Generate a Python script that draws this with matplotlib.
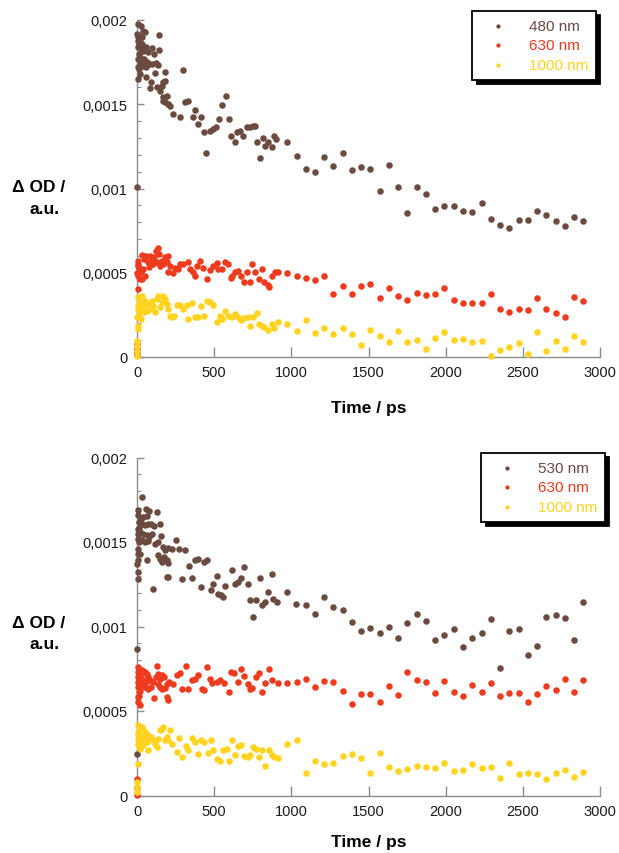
import matplotlib
matplotlib.use('Agg')
import matplotlib.pyplot as plt
from matplotlib.ticker import MultipleLocator

plt.rcParams['font.family'] = ['Liberation Sans', 'DejaVu Sans']

colors = {'brown': '#6B4A40', 'red': '#EE3B1E', 'yellow': '#FFD31F'}

# ===== shared late-time grid (ps) =====
t_late = [1095, 1153, 1214, 1272, 1333, 1393, 1452, 1512, 1573, 1633, 1693,
          1752, 1812, 1873, 1933, 1991, 2052, 2112, 2173, 2234, 2292, 2352,
          2413, 2473, 2534, 2594, 2652, 2713, 2773, 2834, 2892]

# ===== TOP PANEL: 480 nm / 630 nm / 1000 nm =====
t_a_480 = [0, 0, 9, 26, 41, 0, 13, 30, 52, 4, 19, 35, 9, 26, 41, 56, 69, 143, 99,
           143, 112, 9, 30, 48, 63, 78, 41, 56, 95, 121, 134, 19, 4, 19, 56, 91,
           117, 181, 84, 127, 149, 160, 170, 181, 192, 170, 181, 199, 6, 11, 15,
           22, 7, 16,
           296, 171, 203, 214, 235, 279, 311, 333, 365, 376, 397, 415, 434, 449,
           473, 495, 512, 533, 549, 577, 594, 607, 635, 650, 667, 689, 710, 732,
           750, 763, 776, 797, 814, 829, 851, 872, 890, 901, 970, 1035]
y_a_480 = [0.000028, 0.001007, 0.001976, 0.001967, 0.001937, 0.001917, 0.001907,
           0.001897, 0.001927, 0.001877, 0.001868, 0.001858, 0.001838, 0.001828,
           0.001818, 0.001838, 0.001808, 0.001913, 0.001832, 0.001824, 0.001798,
           0.001769, 0.001759, 0.001769, 0.001749, 0.001739, 0.001729, 0.001719,
           0.001739, 0.001743, 0.001735, 0.001739, 0.001650, 0.001680, 0.001660,
           0.001630, 0.001684, 0.001690, 0.001597, 0.001600, 0.001581, 0.001610,
           0.001630, 0.001640, 0.001551, 0.001521, 0.001511, 0.001502, 0.001900,
           0.001860, 0.001800, 0.001780, 0.001720, 0.001710,
           0.001705, 0.001541, 0.001502, 0.001492, 0.001442, 0.001422, 0.001511,
           0.001521, 0.001422, 0.001466, 0.001383, 0.001422, 0.001337, 0.001211,
           0.001343, 0.001353, 0.001363, 0.001413, 0.001496, 0.001551, 0.001413,
           0.001310, 0.001274, 0.001333, 0.001339, 0.001314, 0.001363, 0.001367,
           0.001369, 0.001373, 0.001274, 0.001179, 0.001298, 0.001254, 0.001274,
           0.001244, 0.001314, 0.001294, 0.001278, 0.001195]
y_a_480_late = [0.001116, 0.001096, 0.001189, 0.001136, 0.001211, 0.001112,
                0.001125, 0.001114, 0.000983, 0.001141, 0.001011, 0.000855,
                0.001011, 0.000969, 0.000880, 0.000894, 0.000898, 0.000867,
                0.000862, 0.000914, 0.000821, 0.000785, 0.000766, 0.000813,
                0.000815, 0.000867, 0.000841, 0.000809, 0.000779, 0.000831,
                0.000809]

t_a_630 = [0, 0, 0, 9, 4, 13, 9, 19, 4, 26, 35, 48, 56, 69, 78, 41, 52, 30, 84,
           95, 112, 121, 134, 143, 106, 127, 149, 160, 170, 181, 192, 203, 214,
           199, 6, 15, 2,
           236, 246, 264, 279, 300, 333, 343, 365, 376, 387, 408, 430, 451, 473,
           495, 516, 527, 553, 570, 588, 609, 618, 635, 652, 674, 696, 711, 732,
           747, 765, 791, 808, 825, 847, 855, 873, 894, 916, 974, 1035]
y_a_630 = [0.000077, 0.000047, 0.000010, 0.000572, 0.000542, 0.000512, 0.000483,
           0.000463, 0.000404, 0.000503, 0.000605, 0.000582, 0.000601, 0.000562,
           0.000532, 0.000522, 0.000483, 0.000463, 0.000601, 0.000572, 0.000592,
           0.000631, 0.000645, 0.000611, 0.000552, 0.000562, 0.000542, 0.000572,
           0.000552, 0.000592, 0.000562, 0.000601, 0.000542, 0.000503, 0.000550,
           0.000530, 0.000500,
           0.000499, 0.000526, 0.000522, 0.000552, 0.000552, 0.000562, 0.000522,
           0.000503, 0.000483, 0.000542, 0.000568, 0.000526, 0.000463, 0.000518,
           0.000542, 0.000558, 0.000522, 0.000522, 0.000562, 0.000552, 0.000467,
           0.000483, 0.000503, 0.000512, 0.000479, 0.000443, 0.000503, 0.000443,
           0.000552, 0.000503, 0.000463, 0.000522, 0.000443, 0.000427, 0.000414,
           0.000483, 0.000503, 0.000503, 0.000499, 0.000483]
y_a_630_late = [0.000467, 0.000459, 0.000479, 0.000372, 0.000420, 0.000372,
                0.000420, 0.000431, 0.000348, 0.000411, 0.000362, 0.000340,
                0.000380, 0.000366, 0.000376, 0.000410, 0.000338, 0.000322,
                0.000322, 0.000320, 0.000376, 0.000285, 0.000269, 0.000285,
                0.000279, 0.000350, 0.000287, 0.000261, 0.000235, 0.000356,
                0.000334]

t_a_1000 = [0, 0, 0, 0, 9, 19, 4, 13, 26, 9, 4, 30, 41, 52, 63, 73, 84, 95, 106,
            117, 127, 138, 149, 160, 170, 181, 192, 203, 6, 15, 22, 2, 35, 45,
            214, 225, 242, 257, 279, 300, 322, 333, 354, 376, 393, 415, 436, 451,
            473, 495, 516, 538, 553, 570, 592, 613, 635, 652, 674, 696, 717, 732,
            754, 775, 791, 808, 825, 847, 873, 890, 916, 974, 1035]
y_a_1000 = [0.000097, 0.000067, 0.000035, 0.000003, 0.000354, 0.000324, 0.000285,
            0.000255, 0.000226, 0.000186, 0.000166, 0.000364, 0.000305, 0.000334,
            0.000275, 0.000315, 0.000285, 0.000334, 0.000305, 0.000265, 0.000344,
            0.000364, 0.000295, 0.000328, 0.000364, 0.000344, 0.000315, 0.000285,
            0.000310, 0.000290, 0.000270, 0.000240, 0.000290, 0.000270,
            0.000241, 0.000235, 0.000241, 0.000309, 0.000309, 0.000285, 0.000309,
            0.000226, 0.000320, 0.000235, 0.000235, 0.000305, 0.000241, 0.000334,
            0.000328, 0.000309, 0.000210, 0.000241, 0.000226, 0.000275, 0.000241,
            0.000235, 0.000255, 0.000235, 0.000222, 0.000230, 0.000235, 0.000186,
            0.000235, 0.000261, 0.000196, 0.000186, 0.000176, 0.000162, 0.000196,
            0.000170, 0.000206, 0.000196, 0.000156]
y_a_1000_late = [0.000222, 0.000142, 0.000170, 0.000138, 0.000170, 0.000137,
                 0.000071, 0.000158, 0.000123, 0.000087, 0.000156, 0.000087,
                 0.000103, 0.000047, 0.000111, 0.000150, 0.000103, 0.000107,
                 0.000087, 0.000097, 0.000008, 0.000042, 0.000061, 0.000083,
                 0.000020, 0.000150, 0.000034, 0.000093, 0.000047, 0.000123,
                 0.000091]

# ===== BOTTOM PANEL: 530 nm / 630 nm / 1000 nm =====
t_b_530 = [0, 0, 35, 9, 56, 78, 127, 4, 26, 41, 63, 13, 30, 52, 73, 91, 112, 149,
           4, 19, 41, 63, 78, 9, 30, 52, 69, 95, 117, 138, 156, 170, 181, 199, 4,
           19, 4, 63, 138, 149, 164, 177, 192, 203, 9, 4, 106, 192, 203, 6, 11,
           15, 7, 2,
           225, 251, 272, 311, 294, 337, 354, 376, 393, 415, 436, 451, 479, 495,
           516, 570, 613, 635, 657, 674, 696, 717, 797, 851, 873, 974, 527, 542,
           555, 732, 750, 771, 808, 829, 884, 905, 1030]
y_b_530 = [0.000869, 0.000247, 0.001767, 0.001688, 0.001698, 0.001684, 0.001678,
           0.001658, 0.001639, 0.001649, 0.001652, 0.001619, 0.001609, 0.001599,
           0.001609, 0.001605, 0.001593, 0.001609, 0.001579, 0.001560, 0.001550,
           0.001540, 0.001530, 0.001520, 0.001510, 0.001500, 0.001507, 0.001550,
           0.001491, 0.001500, 0.001534, 0.001471, 0.001451, 0.001465, 0.001461,
           0.001431, 0.001392, 0.001392, 0.001421, 0.001402, 0.001382, 0.001412,
           0.001392, 0.001376, 0.001323, 0.001283, 0.001224, 0.001293, 0.001293,
           0.001550, 0.001500, 0.001580, 0.001430, 0.001370,
           0.001458, 0.001510, 0.001461, 0.001455, 0.001283, 0.001356, 0.001289,
           0.001392, 0.001402, 0.001234, 0.001382, 0.001396, 0.001218, 0.001254,
           0.001297, 0.001238, 0.001332, 0.001249, 0.001264, 0.001288, 0.001353,
           0.001254, 0.001289, 0.001205, 0.001309, 0.001205, 0.001194, 0.001184,
           0.001175, 0.001155, 0.001057, 0.001155, 0.001125, 0.001145, 0.001165,
           0.001145, 0.001135]
y_b_530_late = [0.001125, 0.001072, 0.001173, 0.001116, 0.001096, 0.001029,
                0.000971, 0.000991, 0.000963, 0.000999, 0.000930, 0.001023,
                0.001072, 0.001030, 0.000920, 0.000948, 0.000985, 0.000876,
                0.000930, 0.000962, 0.001042, 0.000752, 0.000975, 0.000985,
                0.000833, 0.000885, 0.001058, 0.001070, 0.001050, 0.000920,
                0.001145]

t_b_630 = [0, 0, 0, 9, 4, 13, 9, 4, 13, 9, 4, 19, 30, 41, 52, 63, 26, 41, 56, 73,
           84, 35, 52, 69, 91, 106, 127, 121, 138, 149, 160, 177, 134, 149, 164,
           181, 192, 207, 235, 112, 192, 203, 6, 15, 22, 11,
           257, 279, 294, 315, 333, 354, 376, 397, 419, 436, 451, 473, 488, 516,
           538, 566, 596, 609, 631, 657, 674, 696, 717, 732, 747, 769, 791, 812,
           830, 855, 873, 916, 974, 1035]
y_b_630 = [0.000100, 0.000045, 0.000003, 0.000760, 0.000731, 0.000701, 0.000672,
           0.000642, 0.000612, 0.000583, 0.000553, 0.000533, 0.000740, 0.000727,
           0.000731, 0.000721, 0.000691, 0.000681, 0.000672, 0.000701, 0.000681,
           0.000651, 0.000642, 0.000632, 0.000642, 0.000672, 0.000766, 0.000701,
           0.000721, 0.000691, 0.000711, 0.000701, 0.000661, 0.000642, 0.000632,
           0.000636, 0.000661, 0.000672, 0.000661, 0.000577, 0.000583, 0.000563,
           0.000700, 0.000660, 0.000620, 0.000590,
           0.000711, 0.000727, 0.000628, 0.000766, 0.000632, 0.000681, 0.000687,
           0.000711, 0.000632, 0.000622, 0.000760, 0.000687, 0.000667, 0.000672,
           0.000681, 0.000667, 0.000612, 0.000731, 0.000727, 0.000672, 0.000746,
           0.000707, 0.000661, 0.000632, 0.000636, 0.000701, 0.000727, 0.000612,
           0.000667, 0.000750, 0.000681, 0.000667, 0.000667, 0.000672]
y_b_630_late = [0.000687, 0.000640, 0.000675, 0.000671, 0.000620, 0.000541,
                0.000598, 0.000598, 0.000555, 0.000646, 0.000594, 0.000731,
                0.000683, 0.000673, 0.000604, 0.000675, 0.000612, 0.000588,
                0.000655, 0.000610, 0.000667, 0.000586, 0.000604, 0.000606,
                0.000551, 0.000600, 0.000648, 0.000626, 0.000689, 0.000612,
                0.000681]

t_b_1000 = [0, 0, 0, 9, 19, 4, 13, 9, 4, 19, 4, 30, 41, 52, 63, 35, 48, 63, 26,
            41, 73, 78, 91, 106, 117, 127, 138, 149, 160, 170, 181, 192, 203, 6,
            15, 22,
            214, 225, 257, 272, 294, 315, 333, 354, 376, 393, 415, 436, 458, 479,
            495, 516, 538, 559, 581, 596, 613, 635, 652, 674, 696, 717, 732, 754,
            769, 791, 812, 830, 855, 873, 890, 916, 974, 1035]
y_b_1000 = [0.000080, 0.000050, 0.000020, 0.000415, 0.000395, 0.000375, 0.000355,
            0.000326, 0.000296, 0.000277, 0.000188, 0.000405, 0.000385, 0.000375,
            0.000365, 0.000346, 0.000326, 0.000316, 0.000306, 0.000296, 0.000267,
            0.000336, 0.000346, 0.000326, 0.000306, 0.000287, 0.000336, 0.000385,
            0.000395, 0.000405, 0.000326, 0.000346, 0.000326, 0.000360, 0.000340,
            0.000320,
            0.000385, 0.000306, 0.000257, 0.000340, 0.000227, 0.000293, 0.000267,
            0.000340, 0.000316, 0.000247, 0.000326, 0.000316, 0.000253, 0.000326,
            0.000272, 0.000217, 0.000207, 0.000272, 0.000277, 0.000207, 0.000326,
            0.000237, 0.000293, 0.000296, 0.000233, 0.000227, 0.000237, 0.000287,
            0.000277, 0.000227, 0.000272, 0.000174, 0.000267, 0.000237, 0.000227,
            0.000223, 0.000306, 0.000330]
y_b_1000_late = [0.000134, 0.000207, 0.000186, 0.000194, 0.000233, 0.000247,
                 0.000223, 0.000133, 0.000251, 0.000166, 0.000146, 0.000154,
                 0.000174, 0.000168, 0.000160, 0.000192, 0.000146, 0.000152,
                 0.000186, 0.000164, 0.000168, 0.000105, 0.000190, 0.000127,
                 0.000136, 0.000127, 0.000099, 0.000133, 0.000152, 0.000109,
                 0.000139]

y_ticks = [0, 0.0005, 0.001, 0.0015, 0.002]
y_tick_labels = ['0', '0,0005', '0,001', '0,0015', '0,002']
x_ticks = [0, 500, 1000, 1500, 2000, 2500, 3000]

W, H = 619, 854
fig = plt.figure(figsize=(W / 100, H / 100), dpi=100)

ax_top = fig.add_axes([137 / W, 1 - 358 / H, 463 / W, 337 / H])
ax_bot = fig.add_axes([137 / W, 1 - 796.5 / H, 463 / W, 338 / H])

panels = [
    (ax_top, [('480 nm', 'brown', t_a_480, y_a_480, y_a_480_late),
              ('630 nm', 'red', t_a_630, y_a_630, y_a_630_late),
              ('1000 nm', 'yellow', t_a_1000, y_a_1000, y_a_1000_late)],
     (596 / W, 1 - 12 / H), 15),
    (ax_bot, [('530 nm', 'brown', t_b_530, y_b_530, y_b_530_late),
              ('630 nm', 'red', t_b_630, y_b_630, y_b_630_late),
              ('1000 nm', 'yellow', t_b_1000, y_b_1000, y_b_1000_late)],
     (605 / W, 1 - 454 / H), 12),
]

for ax, series, leg_anchor, xpad in panels:
    handles = []
    for label, ckey, t_early, y_early, y_late in series:
        h = ax.scatter(t_early + t_late, y_early + y_late, s=22,
                       color=colors[ckey], linewidths=0, clip_on=False,
                       zorder=3, label=label)
        handles.append(h)

    ax.set_xlim(0, 3000)
    ax.set_ylim(0, 0.002)
    ax.set_xticks(x_ticks)
    ax.set_yticks(y_ticks)
    ax.set_yticklabels(y_tick_labels)
    ax.yaxis.set_minor_locator(MultipleLocator(0.0001))
    ax.tick_params(axis='y', which='major', direction='in', length=5,
                   width=1, color='#8c8c8c', labelsize=10.5, pad=7,
                   labelcolor='#1a1a1a')
    ax.tick_params(axis='y', which='minor', direction='in', length=3,
                   width=0.8, color='#8c8c8c')
    ax.tick_params(axis='x', which='major', direction='in', length=7,
                   width=1, color='#8c8c8c', labelsize=10.5, pad=6,
                   labelcolor='#1a1a1a')
    for side in ['top', 'right']:
        ax.spines[side].set_visible(False)
    for side in ['left', 'bottom']:
        ax.spines[side].set_color('#8c8c8c')
        ax.spines[side].set_linewidth(1.0)

    ax.set_xlabel('Time / ps', fontsize=12.5, fontweight='bold', labelpad=xpad)

    leg = ax.legend(handles=handles, loc='upper right',
                    bbox_to_anchor=leg_anchor, bbox_transform=fig.transFigure,
                    fontsize=11, frameon=True, fancybox=False,
                    edgecolor='black', markerscale=0.65, handlelength=2.4,
                    handletextpad=0.8, labelspacing=0.38, borderpad=0.5,
                    borderaxespad=0,
                    shadow={'color': 'black', 'alpha': 1.0, 'ox': 3, 'oy': -3},
                    labelcolor=[colors[s[1]] for s in series])
    leg.get_frame().set_linewidth(1.3)

# y labels (horizontal, two lines)
for y_px in (188, 623):
    fig.text(39 / W, 1 - y_px / H, '\u0394 OD /', fontsize=12.5,
             fontweight='bold', ha='center', va='center')
    fig.text(45 / W, 1 - (y_px + 22) / H, 'a.u.', fontsize=12.5,
             fontweight='bold', ha='center', va='center')

fig.savefig('out.png', dpi=100)
